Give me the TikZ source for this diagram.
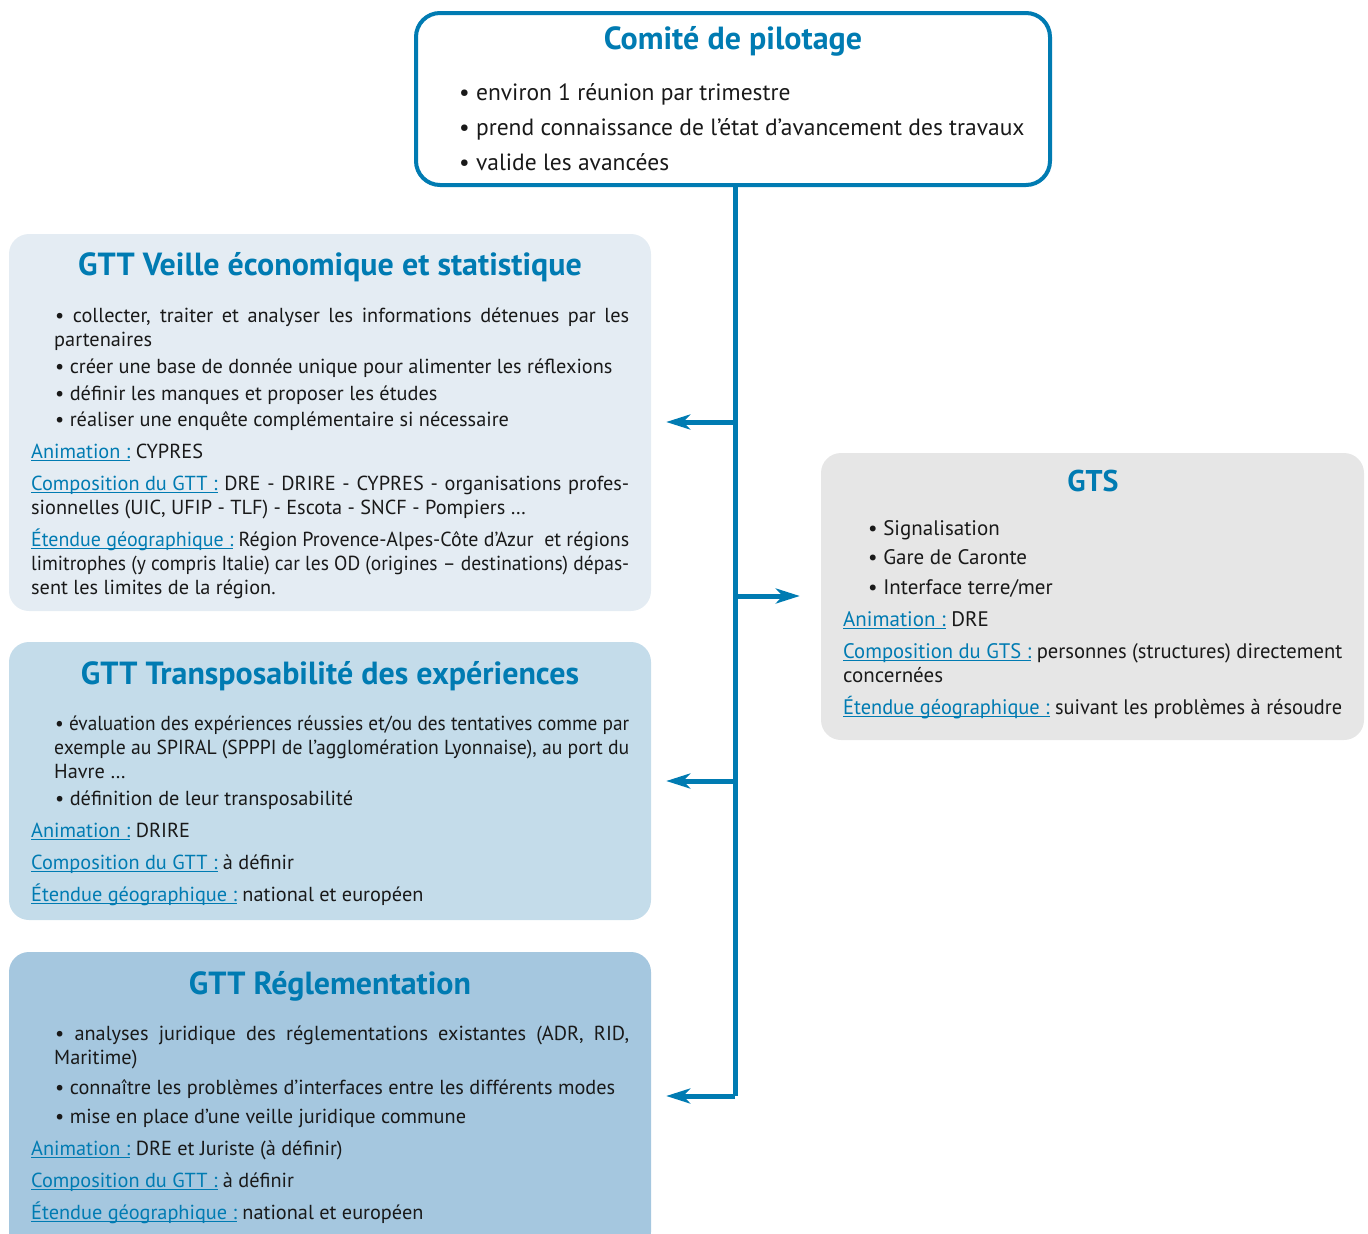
\documentclass[tikz,border=0pt]{standalone}
\usepackage{fontspec}
\setmainfont{PT Sans}
\usepackage{graphicx}
\usepackage{tikz}
\usetikzlibrary{arrows.meta, calc, positioning}

\definecolor{pilot}{RGB}{0,123,178}
\definecolor{veillefill}{RGB}{228,236,243}
\definecolor{transpofill}{RGB}{196,220,234}
\definecolor{reglefill}{RGB}{165,199,223}
\definecolor{gtsfill}{RGB}{230,230,230}
\definecolor{ink}{RGB}{25,25,25}

% blue underlined heading inside a box
\newcommand{\lab}[1]{\textcolor{pilot}{\setbox0\hbox{#1}\rlap{\rule[-3pt]{\wd0}{1.1pt}}\box0}}
% justified line (squeezed if too long)
\newcommand{\just}[2]{\setbox2\hbox{#2}\ifdim\wd2>#1pt\resizebox{#1pt}{\height}{\box2}\else\makebox[#1pt][s]{#2}\fi}

\begin{document}
\begin{tikzpicture}[x=1pt, y=-1pt,
  box/.style={rounded corners=20pt, inner sep=0pt},
  title/.style={font=\fontsize{32}{34}\selectfont\bfseries, text=pilot, anchor=base, inner sep=0pt},
  txt/.style={font=\fontsize{20.3}{22}\selectfont, text=ink, anchor=base west, inner sep=0pt},
  gtstxt/.style={txt, font=\fontsize{21}{23}\selectfont},
  conn/.style={draw=pilot, line width=5pt},
  arr/.style={conn, -{Stealth[length=24pt, width=15pt, inset=7pt]}}]
\useasboundingbox (0,0) rectangle (1368,1234);
\clip (0,0) rectangle (1368,1234);

% boxes
\node[box, draw=pilot, line width=4pt, rounded corners=24pt, minimum width=634pt, minimum height=172pt] (copil) at (733,99) {};
\node[box, fill=veillefill, minimum width=642pt, minimum height=377pt] (veille) at (330,422.5) {};
\node[box, fill=transpofill, minimum width=642pt, minimum height=278pt] (transpo) at (330,781) {};
\node[box, fill=reglefill, minimum width=642pt, minimum height=300pt] (regle) at (330,1102) {};
\node[box, fill=gtsfill, minimum width=543pt, minimum height=287pt] (gts) at (1092.5,596.5) {};

% Comite de pilotage
\node[title] (copilT) at (733,49) {Comité de pilotage};
\foreach \y/\t [count=\i] in {100/environ 1 réunion par trimestre,
    135/prend connaissance de l’état d’avancement des travaux,
    170/valide les avancées}
  \node[txt, font=\fontsize{23.5}{25}\selectfont] (copilB\i) at (459,\y) {• \t};

% GTT veille
\node[title] (veilleT) at (330,275) {GTT Veille économique et statistique};
\node[txt] (veilleB1) at (55,322) {\just{574}{• collecter, traiter et analyser les informations détenues par les}};
\node[txt] (veilleB1b) at (54,346) {partenaires};
\foreach \y/\t [count=\i from 2] in {373/créer une base de donnée unique pour alimenter les réflexions,
    400/définir les manques et proposer les études,
    426/réaliser une enquête complémentaire si nécessaire}
  \node[txt] (veilleB\i) at (55,\y) {• \t};
\node[txt] (veilleA) at (31,458) {\lab{Animation :} CYPRES};
\node[txt] (veilleC) at (31,490) {\just{598}{\lab{Composition du GTT :} DRE - DRIRE - CYPRES - organisations profes-}};
\node[txt] (veilleC2) at (31,514) {sionnelles (UIC, UFIP - TLF) - Escota - SNCF - Pompiers …};
\node[txt] (veilleE) at (31,546) {\just{598}{\lab{Étendue géographique :} Région Provence-Alpes-Côte d'Azur\ \ et régions}};
\node[txt] (veilleE2) at (31,570) {\just{598}{limitrophes (y compris Italie) car les OD (origines – destinations) dépas-}};
\node[txt] (veilleE3) at (31,594) {sent les limites de la région.};

% GTT transposabilite
\node[title] (transpoT) at (330,684) {GTT Transposabilité des expériences};
\node[txt] (transpoB1) at (55,730) {\just{574}{• évaluation des expériences réussies et/ou des tentatives comme par}};
\node[txt] (transpoB1b) at (54,754) {\just{575}{exemple au SPIRAL (SPPPI de l’agglomération Lyonnaise), au port du}};
\node[txt] (transpoB1c) at (54,778) {Havre …};
\node[txt] (transpoB2) at (55,805) {• définition de leur transposabilité};
\node[txt] (transpoA) at (31,837) {\lab{Animation :} DRIRE};
\node[txt] (transpoC) at (31,869) {\lab{Composition du GTT :} à définir};
\node[txt] (transpoE) at (31,901) {\lab{Étendue géographique :} national et européen};

% GTT reglementation
\node[title] (regleT) at (330,994) {GTT Réglementation};
\node[txt] (regleB1) at (55,1040) {\just{574}{• analyses juridique des réglementations existantes (ADR, RID,}};
\node[txt] (regleB1b) at (54,1064) {Maritime)};
\node[txt] (regleB2) at (55,1094) {• connaître les problèmes d’interfaces entre les différents modes};
\node[txt] (regleB3) at (55,1123) {• mise en place d’une veille juridique commune};
\node[txt] (regleA) at (31,1155) {\lab{Animation :} DRE et Juriste (à définir)};
\node[txt] (regleC) at (31,1187) {\lab{Composition du GTT :} à définir};
\node[txt] (regleE) at (31,1219) {\lab{Étendue géographique :} national et européen};

% GTS
\node[title, font=\fontsize{30}{32}\selectfont\bfseries] (gtsT) at (1093,491) {GTS};
\foreach \y/\t [count=\i] in {535/Signalisation, 564/Gare de Caronte, 594/{Interface terre/mer}}
  \node[gtstxt] (gtsB\i) at (868,\y) {• \t};
\node[gtstxt] (gtsA) at (843,626) {\lab{Animation :} DRE};
\node[gtstxt] (gtsC) at (843,658) {\just{499}{\lab{Composition du GTS :} personnes (structures) directement}};
\node[gtstxt] (gtsC2) at (843,682) {concernées};
\node[gtstxt] (gtsE) at (843,714) {\just{499}{\lab{Étendue géographique :} suivant les problèmes à résoudre}};

% connectors
\coordinate (j1) at (735,422);
\coordinate (j2) at (735,596);
\coordinate (j3) at (735,781);
\coordinate (j4) at (735,1096);
\draw[conn] (copil.south -| j4) -- (j4);
\draw[arr] (j1) -- ([xshift=15pt]j1 -| veille.east);
\draw[arr] (j2) -- ([xshift=-21pt]j2 -| gts.west);
\draw[arr] (j3) -- ([xshift=15pt]j3 -| transpo.east);
\draw[arr] (j4) -- ([xshift=15pt]j4 -| regle.east);
\end{tikzpicture}
\end{document}
